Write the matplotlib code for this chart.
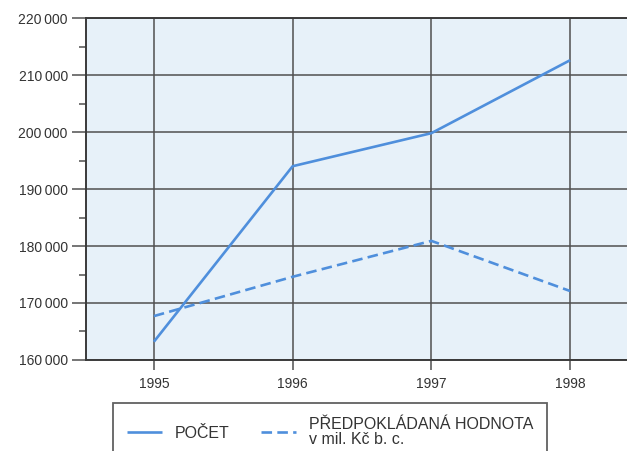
import matplotlib.pyplot as plt
from matplotlib.ticker import MultipleLocator, FuncFormatter

plt.rcParams['font.family'] = ['Liberation Sans', 'DejaVu Sans']

years = [1995, 1996, 1997, 1998]
pocet = [163200, 194000, 199800, 212600]
hodnota = [167700, 174600, 180900, 172100]

labels = ['POČET', 'PŘEDPOKLÁDANÁ HODNOTA\nv mil. Kč b. c.']

blue = '#4f8fdc'
grid_c = '#505050'

fig = plt.figure(figsize=(6.27, 4.51), dpi=100)
ax = fig.add_axes([0.137, 0.2018, 0.863, 0.7582])
ax.set_facecolor('#e7f1f9')

ax.plot(years, pocet, color=blue, lw=1.9, solid_capstyle='butt', label=labels[0], zorder=3)
ax.plot(years, hodnota, color=blue, lw=1.9, dashes=(4, 2), label=labels[1], zorder=3)

ax.set_xlim(1994.51, 1998.41)
ax.set_ylim(160000, 220000)
ax.set_xticks(years)
ax.yaxis.set_major_locator(MultipleLocator(10000))
ax.yaxis.set_minor_locator(MultipleLocator(5000))
ax.yaxis.set_major_formatter(FuncFormatter(lambda v, p: f'{int(v):,}'.replace(',', '\u2009')))

ax.grid(True, color=grid_c, lw=1.1)
ax.set_axisbelow(True)
ax.tick_params(axis='y', which='major', length=10, width=1.1, color=grid_c, pad=3, labelsize=10, labelcolor='#333333')
ax.tick_params(axis='y', which='minor', length=5, width=1.1, color=grid_c)
ax.tick_params(axis='x', length=7, width=1.1, color=grid_c, pad=5, labelsize=10, labelcolor='#333333')

for s in ['left', 'bottom', 'top']:
    ax.spines[s].set_color('#3a3a3a')
    ax.spines[s].set_linewidth(1.4)
ax.spines['right'].set_visible(False)

leg = fig.legend(loc='upper left', bbox_to_anchor=(113 / 627, 1 - 403 / 451), ncol=2,
                 fontsize=11.5, frameon=True, fancybox=False, borderpad=0.85,
                 handlelength=2.2, handletextpad=0.8, columnspacing=2.0, borderaxespad=0,
                 labelspacing=0.2)
leg.get_frame().set_edgecolor('#3a3a3a')
leg.get_frame().set_linewidth(1.3)
for t in leg.get_texts():
    t.set_color('#333333')
    t.set_linespacing(1.0)

fig.savefig('out.png', dpi=100)
